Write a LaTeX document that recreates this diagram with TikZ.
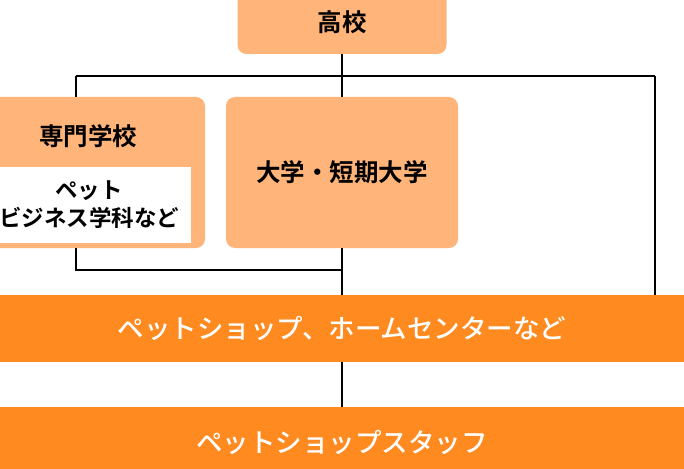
\documentclass[tikz,border=0pt]{standalone}
\usepackage{fontspec}
\usepackage{tikz}
\newfontfamily\jp{Noto Sans CJK JP Medium}
\newfontfamily\jpbold{Noto Sans CJK JP Bold}
\definecolor{peach}{HTML}{FFB47A}
\definecolor{deeporange}{HTML}{FF8A20}
\tikzset{
  lightbox/.style={fill=peach, rounded corners=9pt, inner sep=0pt},
  band/.style={fill=deeporange, inner sep=0pt, minimum width=720pt, text=white, font=\jp\fontsize{26.5}{30}\selectfont},
  label/.style={font=\jpbold\fontsize{24.5}{28}\selectfont, align=center},
  small label/.style={font=\jpbold\fontsize{22.5}{28}\selectfont, align=center},
  link/.style={line width=2.2pt, black}
}
\begin{document}
\begin{tikzpicture}[x=1pt,y=-1pt]
\useasboundingbox (0,0) rectangle (684,468);
% boxes
\node[lightbox, minimum width=209pt, minimum height=64pt] (koukou) at (342,22) {};
\node[label] (koukoutext) at (342,22) {高校};
\node[lightbox, minimum width=234pt, minimum height=151pt] (senmon) at (88,172.5) {};
\node[label] (senmontext) at (88,136) {専門学校};
\node[fill=white, inner sep=0pt, minimum width=204pt, minimum height=76pt, small label] (petbiz) at (89,205) {ペット\\ビジネス学科など};
\node[lightbox, minimum width=232pt, minimum height=151pt, label] (daigaku) at (342,172.5) {大学・短期大学};
\node[band, minimum height=67pt] (shop) at (342,328.5) {ペットショップ、ホームセンターなど};
\node[band, minimum height=74pt, anchor=north] (staff) at (342,407) {};
\node[text=white, font=\jp\fontsize{26.5}{30}\selectfont] (stafftext) at (342,442) {ペットショップスタッフ};
% lines
\coordinate (lt) at (76,76);
\coordinate (rt) at (655,76);
\coordinate (lb) at (76,270);
\coordinate (mb) at (342,270);
\draw[link] (koukou.south) -- (daigaku.north);
\draw[link] (lt) -- (rt);
\draw[link] (lt) -- (lt |- senmon.north);
\draw[link] (lt |- senmon.south) -- (lb) -- (mb);
\draw[link] (daigaku.south) -- (shop.north);
\draw[link] (rt) -- (rt |- shop.north);
\draw[link] (shop.south) -- (staff.north);
\end{tikzpicture}
\end{document}
